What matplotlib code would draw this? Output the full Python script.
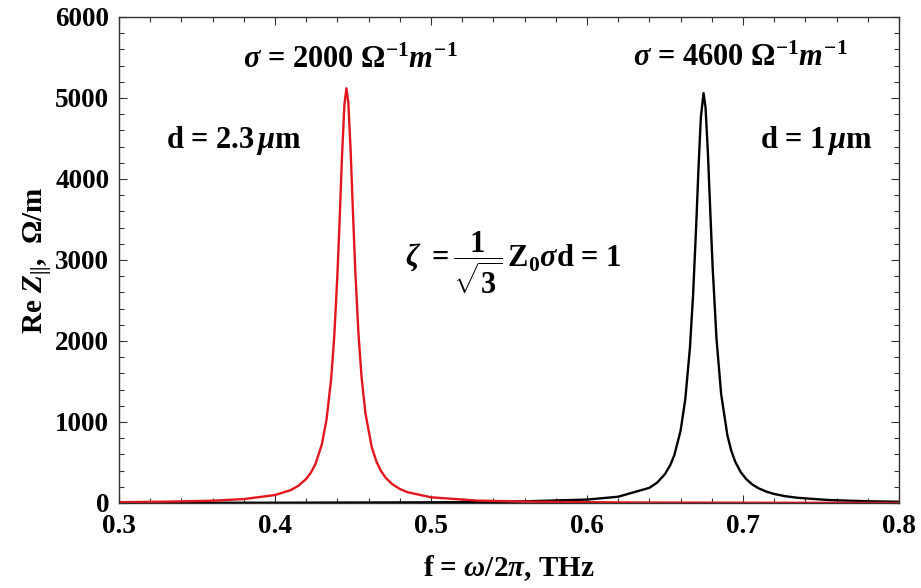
import numpy as np
import matplotlib
matplotlib.use('Agg')
import matplotlib.pyplot as plt
import matplotlib.ticker as mticker

plt.rcParams['font.family'] = 'Liberation Serif'
plt.rcParams['font.weight'] = 'bold'
plt.rcParams['axes.labelweight'] = 'bold'
plt.rcParams['mathtext.fontset'] = 'custom'
plt.rcParams['mathtext.rm'] = 'Liberation Serif:bold'
plt.rcParams['mathtext.it'] = 'Liberation Serif:italic:bold'
plt.rcParams['mathtext.bf'] = 'Liberation Serif:bold'

# sigma = 2000, d = 2.3 um (red curve)
f_red = [0.300, 0.330, 0.360, 0.380, 0.400, 0.410, 0.415, 0.420, 0.423, 0.426,
         0.430, 0.433, 0.436, 0.438, 0.440, 0.4415, 0.443, 0.4445, 0.4458, 0.447,
         0.4485, 0.450, 0.4515, 0.4535, 0.4555, 0.458, 0.462, 0.465, 0.468, 0.471,
         0.475, 0.480, 0.485, 0.500, 0.530, 0.570, 0.630, 0.700, 0.800]
z_red = [10, 16, 28, 48, 98, 158, 212, 297, 374, 484,
         722, 1024, 1531, 2060, 2812, 3528, 4298, 4917, 5120, 4946,
         4346, 3578, 2855, 2092, 1553, 1105, 691, 512, 393, 310,
         235, 173, 133, 70, 29, 14, 6, 3, 1]

# sigma = 4600, d = 1 um (black curve)
f_blk = [0.300, 0.400, 0.500, 0.550, 0.600, 0.620, 0.640, 0.645, 0.650, 0.6535,
         0.656, 0.660, 0.663, 0.666, 0.668, 0.670, 0.6715, 0.673, 0.6747, 0.676,
         0.6775, 0.679, 0.6805, 0.683, 0.686, 0.690, 0.6925, 0.695, 0.6985, 0.702,
         0.706, 0.710, 0.715, 0.720, 0.727, 0.735, 0.755, 0.780, 0.800]
z_blk = [2, 3, 8, 15, 42, 77, 187, 252, 357, 472,
         591, 892, 1278, 1919, 2567, 3424, 4142, 4762, 5060, 4882,
         4326, 3614, 2929, 2032, 1345, 835, 645, 511, 382, 296,
         228, 181, 140, 111, 84, 64, 36, 21, 15]

fig = plt.figure(figsize=(9.21, 5.88), dpi=100)
ax = fig.add_axes([0.1292, 0.1446, 0.8469, 0.8265])

ax.plot(f_blk, z_blk, color='black', lw=1.7)
ax.plot(f_red, z_red, color='#e3161d', lw=1.7)

ax.set_xlim(0.3, 0.8)
ax.set_ylim(0, 6000)
ax.xaxis.set_major_locator(mticker.MultipleLocator(0.1))
ax.xaxis.set_minor_locator(mticker.MultipleLocator(0.02))
ax.yaxis.set_major_locator(mticker.MultipleLocator(1000))
ax.yaxis.set_minor_locator(mticker.MultipleLocator(200))
ax.xaxis.set_major_formatter(mticker.FormatStrFormatter('%.1f'))
ax.tick_params(which='both', direction='in', top=True, right=True,
               labelsize=19.5, width=0.8, color='#333333')
ax.tick_params(which='major', length=6)
ax.tick_params(which='minor', length=3.5)
ax.tick_params(axis='x', which='major', pad=8)
ax.tick_params(axis='y', which='major', pad=7)
for s in ax.spines.values():
    s.set_color('#333333')
    s.set_linewidth(1.0)

ax.set_xlabel(r'f = $\omega$/2$\pi$, THz', fontsize=21, labelpad=10)
ax.set_ylabel(r'Re $Z_{||}$,  $\Omega$/m', fontsize=21, labelpad=1)

ax.text(0.448, 5469, r'$\sigma$ = 2000 $\Omega^{-1}m^{-1}$', fontsize=22,
        ha='center', va='center')
ax.text(0.698, 5494, r'$\sigma$ = 4600 $\Omega^{-1}m^{-1}$', fontsize=22,
        ha='center', va='center')
ax.text(0.3737, 4481, r'd = 2.3$\,\mu$m', fontsize=22, ha='center', va='center')
ax.text(0.7468, 4481, r'd = 1$\,\mu$m', fontsize=22, ha='center', va='center')
ax.text(0.4833, 2963,
        r'$\zeta\ =\dfrac{\ 1\ }{\sqrt{3}}\,\mathrm{Z_0}\sigma\mathrm{d}$ = 1',
        fontsize=22, ha='left', va='center')

fig.savefig('out.png', dpi=100)
